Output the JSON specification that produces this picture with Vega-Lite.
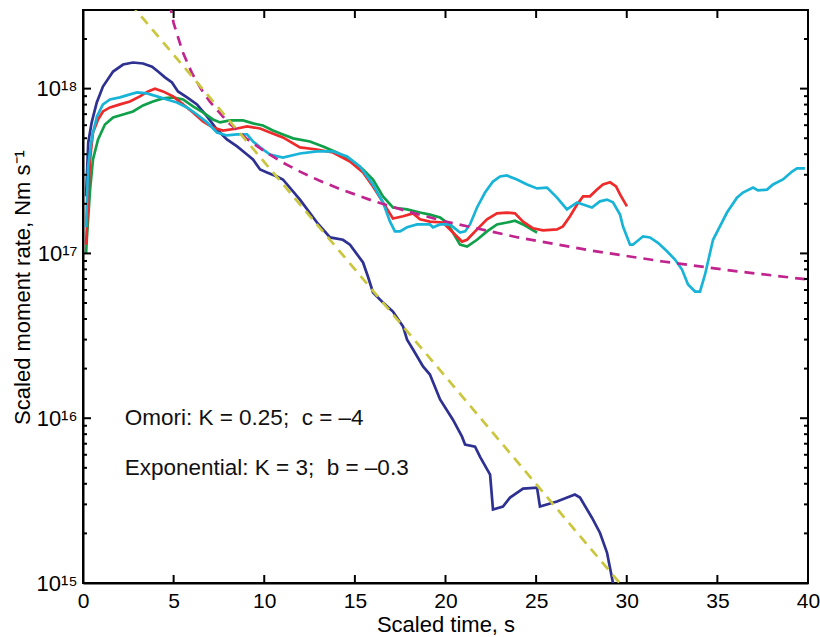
{
  "$schema": "https://vega.github.io/schema/vega-lite/v6.json",
  "width": 725,
  "height": 573,
  "autosize": {"type": "none"},
  "padding": {"left": 83, "top": 10, "right": 12, "bottom": 54},
  "background": "white",
  "config": {
    "font": "Liberation Sans",
    "view": {"stroke": "black", "strokeWidth": 2},
    "axis": {"labelColor": "black", "titleColor": "black", "domainColor": "black", "domainWidth": 2, "ticks": false, "grid": false, "labelFont": "Liberation Sans", "titleFont": "Liberation Sans", "titleFontWeight": "normal"}
  },
  "datasets": {
    "obs": [
      {"s": "blue", "t": 0.17, "m": 2.22e17}, {"s": "blue", "t": 0.29, "m": 4.71e17}, {"s": "blue", "t": 0.48, "m": 6.24e17}, {"s": "blue", "t": 0.76, "m": 8.24e17}, {"s": "blue", "t": 1.10, "m": 1.03e18}, {"s": "blue", "t": 1.66, "m": 1.27e18}, {"s": "blue", "t": 2.21, "m": 1.40e18}, {"s": "blue", "t": 2.76, "m": 1.44e18}, {"s": "blue", "t": 3.31, "m": 1.42e18}, {"s": "blue", "t": 3.81, "m": 1.36e18}, {"s": "blue", "t": 4.14, "m": 1.27e18}, {"s": "blue", "t": 4.52, "m": 1.17e18}, {"s": "blue", "t": 4.91, "m": 1.09e18}, {"s": "blue", "t": 5.24, "m": 9.62e17}, {"s": "blue", "t": 5.74, "m": 8.85e17}, {"s": "blue", "t": 6.29, "m": 8.02e17}, {"s": "blue", "t": 6.84, "m": 6.78e17}, {"s": "blue", "t": 7.39, "m": 5.65e17}, {"s": "blue", "t": 7.94, "m": 4.92e17}, {"s": "blue", "t": 8.50, "m": 4.46e17}, {"s": "blue", "t": 9.05, "m": 3.98e17}, {"s": "blue", "t": 9.38, "m": 3.72e17}, {"s": "blue", "t": 9.77, "m": 3.23e17}, {"s": "blue", "t": 10.15, "m": 3.10e17}, {"s": "blue", "t": 10.70, "m": 2.93e17}, {"s": "blue", "t": 11.03, "m": 2.81e17}, {"s": "blue", "t": 11.97, "m": 2.12e17}, {"s": "blue", "t": 12.91, "m": 1.54e17}, {"s": "blue", "t": 13.63, "m": 1.25e17}, {"s": "blue", "t": 14.34, "m": 1.21e17}, {"s": "blue", "t": 14.73, "m": 1.13e17}, {"s": "blue", "t": 15.45, "m": 8.81e16}, {"s": "blue", "t": 15.72, "m": 7.24e16}, {"s": "blue", "t": 16.0, "m": 5.79e16}, {"s": "blue", "t": 16.55, "m": 5.03e16}, {"s": "blue", "t": 17.10, "m": 4.44e16}, {"s": "blue", "t": 17.66, "m": 3.60e16}, {"s": "blue", "t": 17.88, "m": 3.00e16}, {"s": "blue", "t": 18.21, "m": 2.61e16}, {"s": "blue", "t": 18.76, "m": 2.06e16}, {"s": "blue", "t": 19.14, "m": 1.84e16}, {"s": "blue", "t": 19.70, "m": 1.30e16}, {"s": "blue", "t": 20.41, "m": 9.8e15}, {"s": "blue", "t": 20.91, "m": 7.73e15}, {"s": "blue", "t": 21.08, "m": 6.92e15}, {"s": "blue", "t": 21.63, "m": 6.72e15}, {"s": "blue", "t": 21.90, "m": 5.85e15}, {"s": "blue", "t": 22.46, "m": 4.55e15}, {"s": "blue", "t": 22.62, "m": 2.79e15}, {"s": "blue", "t": 23.17, "m": 2.91e15}, {"s": "blue", "t": 23.56, "m": 3.30e15}, {"s": "blue", "t": 24.28, "m": 3.74e15}, {"s": "blue", "t": 25.05, "m": 3.79e15}, {"s": "blue", "t": 25.21, "m": 2.91e15}, {"s": "blue", "t": 26.15, "m": 3.12e15}, {"s": "blue", "t": 27.14, "m": 3.44e15}, {"s": "blue", "t": 27.42, "m": 3.30e15}, {"s": "blue", "t": 28.08, "m": 2.49e15}, {"s": "blue", "t": 28.52, "m": 2.02e15}, {"s": "blue", "t": 28.91, "m": 1.53e15}, {"s": "blue", "t": 29.24, "m": 1.0e15}, {"s": "blue", "t": 29.35, "m": 9.0e14},

      {"s": "green", "t": 0.17, "m": 1.0e17}, {"s": "green", "t": 0.22, "m": 1.27e17}, {"s": "green", "t": 0.39, "m": 2.44e17}, {"s": "green", "t": 0.55, "m": 3.72e17}, {"s": "green", "t": 0.83, "m": 4.92e17}, {"s": "green", "t": 1.21, "m": 6.06e17}, {"s": "green", "t": 1.66, "m": 6.68e17}, {"s": "green", "t": 2.21, "m": 6.97e17}, {"s": "green", "t": 2.76, "m": 7.27e17}, {"s": "green", "t": 3.31, "m": 7.91e17}, {"s": "green", "t": 3.86, "m": 8.36e17}, {"s": "green", "t": 4.41, "m": 8.73e17}, {"s": "green", "t": 4.97, "m": 8.85e17}, {"s": "green", "t": 5.52, "m": 8.6e17}, {"s": "green", "t": 6.07, "m": 7.8e17}, {"s": "green", "t": 6.62, "m": 7.17e17}, {"s": "green", "t": 7.17, "m": 6.50e17}, {"s": "green", "t": 7.56, "m": 6.24e17}, {"s": "green", "t": 8.11, "m": 6.41e17}, {"s": "green", "t": 8.83, "m": 6.41e17}, {"s": "green", "t": 9.38, "m": 6.15e17}, {"s": "green", "t": 9.93, "m": 5.98e17}, {"s": "green", "t": 10.48, "m": 5.57e17}, {"s": "green", "t": 11.03, "m": 5.27e17}, {"s": "green", "t": 11.59, "m": 4.99e17}, {"s": "green", "t": 12.52, "m": 4.78e17}, {"s": "green", "t": 13.24, "m": 4.46e17}, {"s": "green", "t": 14.01, "m": 4.10e17}, {"s": "green", "t": 14.73, "m": 3.72e17}, {"s": "green", "t": 15.45, "m": 3.23e17}, {"s": "green", "t": 16.0, "m": 2.81e17}, {"s": "green", "t": 16.55, "m": 2.22e17}, {"s": "green", "t": 17.10, "m": 1.90e17}, {"s": "green", "t": 17.88, "m": 1.85e17}, {"s": "green", "t": 18.59, "m": 1.77e17}, {"s": "green", "t": 19.14, "m": 1.72e17}, {"s": "green", "t": 19.70, "m": 1.65e17}, {"s": "green", "t": 20.08, "m": 1.54e17}, {"s": "green", "t": 20.41, "m": 1.34e17}, {"s": "green", "t": 20.80, "m": 1.13e17}, {"s": "green", "t": 21.19, "m": 1.10e17}, {"s": "green", "t": 21.74, "m": 1.21e17}, {"s": "green", "t": 22.29, "m": 1.36e17}, {"s": "green", "t": 22.84, "m": 1.50e17}, {"s": "green", "t": 23.39, "m": 1.54e17}, {"s": "green", "t": 23.83, "m": 1.58e17}, {"s": "green", "t": 24.28, "m": 1.50e17}, {"s": "green", "t": 24.83, "m": 1.38e17}, {"s": "green", "t": 25.05, "m": 1.34e17},

      {"s": "red", "t": 0.17, "m": 1.13e17}, {"s": "red", "t": 0.39, "m": 3.72e17}, {"s": "red", "t": 0.55, "m": 5.42e17}, {"s": "red", "t": 0.83, "m": 6.50e17}, {"s": "red", "t": 1.10, "m": 7.27e17}, {"s": "red", "t": 1.49, "m": 7.69e17}, {"s": "red", "t": 2.04, "m": 8.02e17}, {"s": "red", "t": 2.59, "m": 8.36e17}, {"s": "red", "t": 3.14, "m": 8.97e17}, {"s": "red", "t": 3.59, "m": 9.62e17}, {"s": "red", "t": 3.97, "m": 1.0e18}, {"s": "red", "t": 4.41, "m": 9.62e17}, {"s": "red", "t": 4.97, "m": 8.97e17}, {"s": "red", "t": 5.52, "m": 8.02e17}, {"s": "red", "t": 6.07, "m": 7.17e17}, {"s": "red", "t": 6.62, "m": 6.32e17}, {"s": "red", "t": 7.17, "m": 5.81e17}, {"s": "red", "t": 7.72, "m": 5.57e17}, {"s": "red", "t": 8.50, "m": 5.73e17}, {"s": "red", "t": 9.05, "m": 5.90e17}, {"s": "red", "t": 9.77, "m": 5.73e17}, {"s": "red", "t": 10.32, "m": 5.42e17}, {"s": "red", "t": 11.03, "m": 5.06e17}, {"s": "red", "t": 11.97, "m": 4.40e17}, {"s": "red", "t": 12.91, "m": 4.27e17}, {"s": "red", "t": 13.79, "m": 4.10e17}, {"s": "red", "t": 14.73, "m": 3.61e17}, {"s": "red", "t": 15.45, "m": 3.10e17}, {"s": "red", "t": 16.0, "m": 2.55e17}, {"s": "red", "t": 16.55, "m": 2.04e17}, {"s": "red", "t": 17.10, "m": 1.63e17}, {"s": "red", "t": 17.66, "m": 1.68e17}, {"s": "red", "t": 18.21, "m": 1.75e17}, {"s": "red", "t": 18.59, "m": 1.61e17}, {"s": "red", "t": 19.14, "m": 1.56e17}, {"s": "red", "t": 19.86, "m": 1.54e17}, {"s": "red", "t": 20.41, "m": 1.34e17}, {"s": "red", "t": 20.91, "m": 1.18e17}, {"s": "red", "t": 21.19, "m": 1.21e17}, {"s": "red", "t": 21.74, "m": 1.40e17}, {"s": "red", "t": 22.29, "m": 1.61e17}, {"s": "red", "t": 22.84, "m": 1.75e17}, {"s": "red", "t": 23.39, "m": 1.77e17}, {"s": "red", "t": 23.83, "m": 1.75e17}, {"s": "red", "t": 24.28, "m": 1.56e17}, {"s": "red", "t": 24.83, "m": 1.42e17}, {"s": "red", "t": 25.38, "m": 1.38e17}, {"s": "red", "t": 26.15, "m": 1.40e17}, {"s": "red", "t": 26.48, "m": 1.46e17}, {"s": "red", "t": 26.87, "m": 1.68e17}, {"s": "red", "t": 27.26, "m": 1.98e17}, {"s": "red", "t": 27.59, "m": 2.22e17}, {"s": "red", "t": 27.97, "m": 2.22e17}, {"s": "red", "t": 28.36, "m": 2.44e17}, {"s": "red", "t": 28.69, "m": 2.62e17}, {"s": "red", "t": 29.08, "m": 2.70e17}, {"s": "red", "t": 29.41, "m": 2.55e17}, {"s": "red", "t": 29.63, "m": 2.28e17}, {"s": "red", "t": 30.01, "m": 1.93e17},

      {"s": "cyan", "t": 0.17, "m": 1.44e17}, {"s": "cyan", "t": 0.28, "m": 3.37e17}, {"s": "cyan", "t": 0.50, "m": 5.13e17}, {"s": "cyan", "t": 0.77, "m": 6.78e17}, {"s": "cyan", "t": 1.10, "m": 8.02e17}, {"s": "cyan", "t": 1.49, "m": 8.6e17}, {"s": "cyan", "t": 2.04, "m": 8.85e17}, {"s": "cyan", "t": 2.59, "m": 9.23e17}, {"s": "cyan", "t": 2.98, "m": 9.48e17}, {"s": "cyan", "t": 3.53, "m": 9.35e17}, {"s": "cyan", "t": 4.08, "m": 8.97e17}, {"s": "cyan", "t": 4.63, "m": 8.6e17}, {"s": "cyan", "t": 5.19, "m": 8.24e17}, {"s": "cyan", "t": 5.74, "m": 7.69e17}, {"s": "cyan", "t": 6.29, "m": 6.97e17}, {"s": "cyan", "t": 6.84, "m": 6.24e17}, {"s": "cyan", "t": 7.39, "m": 5.42e17}, {"s": "cyan", "t": 7.94, "m": 5.20e17}, {"s": "cyan", "t": 8.50, "m": 5.27e17}, {"s": "cyan", "t": 9.05, "m": 5.27e17}, {"s": "cyan", "t": 9.38, "m": 4.78e17}, {"s": "cyan", "t": 9.77, "m": 4.40e17}, {"s": "cyan", "t": 10.32, "m": 3.98e17}, {"s": "cyan", "t": 11.03, "m": 3.82e17}, {"s": "cyan", "t": 11.97, "m": 4.04e17}, {"s": "cyan", "t": 12.91, "m": 4.16e17}, {"s": "cyan", "t": 13.79, "m": 4.16e17}, {"s": "cyan", "t": 14.57, "m": 3.87e17}, {"s": "cyan", "t": 15.28, "m": 3.37e17}, {"s": "cyan", "t": 16.0, "m": 2.62e17}, {"s": "cyan", "t": 16.55, "m": 2.04e17}, {"s": "cyan", "t": 16.94, "m": 1.56e17}, {"s": "cyan", "t": 17.21, "m": 1.36e17}, {"s": "cyan", "t": 17.49, "m": 1.36e17}, {"s": "cyan", "t": 17.88, "m": 1.44e17}, {"s": "cyan", "t": 18.43, "m": 1.50e17}, {"s": "cyan", "t": 19.14, "m": 1.50e17}, {"s": "cyan", "t": 19.31, "m": 1.44e17}, {"s": "cyan", "t": 19.70, "m": 1.50e17}, {"s": "cyan", "t": 20.25, "m": 1.50e17}, {"s": "cyan", "t": 20.80, "m": 1.34e17}, {"s": "cyan", "t": 21.08, "m": 1.36e17}, {"s": "cyan", "t": 21.35, "m": 1.50e17}, {"s": "cyan", "t": 21.74, "m": 1.90e17}, {"s": "cyan", "t": 22.18, "m": 2.34e17}, {"s": "cyan", "t": 22.62, "m": 2.73e17}, {"s": "cyan", "t": 23.01, "m": 2.93e17}, {"s": "cyan", "t": 23.39, "m": 2.97e17}, {"s": "cyan", "t": 23.94, "m": 2.81e17}, {"s": "cyan", "t": 24.50, "m": 2.62e17}, {"s": "cyan", "t": 25.05, "m": 2.48e17}, {"s": "cyan", "t": 25.60, "m": 2.51e17}, {"s": "cyan", "t": 26.15, "m": 2.18e17}, {"s": "cyan", "t": 26.70, "m": 1.85e17}, {"s": "cyan", "t": 27.26, "m": 2.04e17}, {"s": "cyan", "t": 27.59, "m": 1.98e17}, {"s": "cyan", "t": 28.08, "m": 1.90e17}, {"s": "cyan", "t": 28.52, "m": 2.07e17}, {"s": "cyan", "t": 28.91, "m": 2.12e17}, {"s": "cyan", "t": 29.24, "m": 2.04e17}, {"s": "cyan", "t": 29.63, "m": 1.72e17}, {"s": "cyan", "t": 29.79, "m": 1.46e17}, {"s": "cyan", "t": 30.18, "m": 1.13e17}, {"s": "cyan", "t": 30.34, "m": 1.13e17}, {"s": "cyan", "t": 30.90, "m": 1.27e17}, {"s": "cyan", "t": 31.28, "m": 1.25e17}, {"s": "cyan", "t": 31.72, "m": 1.16e17}, {"s": "cyan", "t": 32.22, "m": 1.03e17}, {"s": "cyan", "t": 32.66, "m": 9.18e16}, {"s": "cyan", "t": 33.05, "m": 7.98e16}, {"s": "cyan", "t": 33.38, "m": 6.47e16}, {"s": "cyan", "t": 33.77, "m": 5.87e16}, {"s": "cyan", "t": 34.04, "m": 5.87e16}, {"s": "cyan", "t": 34.32, "m": 7.45e16}, {"s": "cyan", "t": 34.76, "m": 1.21e17}, {"s": "cyan", "t": 35.14, "m": 1.46e17}, {"s": "cyan", "t": 35.53, "m": 1.77e17}, {"s": "cyan", "t": 36.08, "m": 2.18e17}, {"s": "cyan", "t": 36.41, "m": 2.34e17}, {"s": "cyan", "t": 36.97, "m": 2.51e17}, {"s": "cyan", "t": 37.24, "m": 2.41e17}, {"s": "cyan", "t": 37.74, "m": 2.44e17}, {"s": "cyan", "t": 38.07, "m": 2.62e17}, {"s": "cyan", "t": 38.62, "m": 2.81e17}, {"s": "cyan", "t": 39.12, "m": 3.14e17}, {"s": "cyan", "t": 39.39, "m": 3.28e17}, {"s": "cyan", "t": 39.83, "m": 3.28e17}
    ],
    "fits": [
      {"s": "omori", "t": 4.6, "m": 4.17e18}, {"s": "omori", "t": 5, "m": 2.5e18}, {"s": "omori", "t": 5.5, "m": 1.667e18}, {"s": "omori", "t": 6, "m": 1.25e18}, {"s": "omori", "t": 6.5, "m": 1.0e18}, {"s": "omori", "t": 7, "m": 8.33e17}, {"s": "omori", "t": 8, "m": 6.25e17}, {"s": "omori", "t": 9, "m": 5.0e17}, {"s": "omori", "t": 10, "m": 4.17e17}, {"s": "omori", "t": 11, "m": 3.57e17}, {"s": "omori", "t": 12, "m": 3.125e17}, {"s": "omori", "t": 13, "m": 2.78e17}, {"s": "omori", "t": 14, "m": 2.5e17}, {"s": "omori", "t": 16, "m": 2.083e17}, {"s": "omori", "t": 18, "m": 1.786e17}, {"s": "omori", "t": 20, "m": 1.5625e17}, {"s": "omori", "t": 24, "m": 1.25e17}, {"s": "omori", "t": 28, "m": 1.042e17}, {"s": "omori", "t": 32, "m": 8.93e16}, {"s": "omori", "t": 36, "m": 7.81e16}, {"s": "omori", "t": 40, "m": 6.94e16},
      {"s": "exponential", "t": 2, "m": 3.95e18}, {"s": "exponential", "t": 16, "m": 5.93e16}, {"s": "exponential", "t": 30, "m": 8.89e14}
    ],
    "notes": [
      {"t": 2.3, "m": 1.0e16, "label": "Omori: K = 0.25;\u00a0 c = \u20134"},
      {"t": 2.3, "m": 5.0e15, "label": "Exponential: K = 3;\u00a0 b = \u20130.3"}
    ],
    "xticks": [
      {"v": 5, "e": 1e15}, {"v": 10, "e": 1e15}, {"v": 15, "e": 1e15}, {"v": 20, "e": 1e15}, {"v": 25, "e": 1e15}, {"v": 30, "e": 1e15}, {"v": 35, "e": 1e15},
      {"v": 5, "e": 3e18}, {"v": 10, "e": 3e18}, {"v": 15, "e": 3e18}, {"v": 20, "e": 3e18}, {"v": 25, "e": 3e18}, {"v": 30, "e": 3e18}, {"v": 35, "e": 3e18}
    ],
    "yticks": [
      {"v": 2e15, "k": "minor"}, {"v": 3e15, "k": "minor"}, {"v": 4e15, "k": "minor"}, {"v": 5e15, "k": "minor"}, {"v": 6e15, "k": "minor"}, {"v": 7e15, "k": "minor"}, {"v": 8e15, "k": "minor"}, {"v": 9e15, "k": "minor"},
      {"v": 1e16, "k": "major"}, {"v": 2e16, "k": "minor"}, {"v": 3e16, "k": "minor"}, {"v": 4e16, "k": "minor"}, {"v": 5e16, "k": "minor"}, {"v": 6e16, "k": "minor"}, {"v": 7e16, "k": "minor"}, {"v": 8e16, "k": "minor"}, {"v": 9e16, "k": "minor"},
      {"v": 1e17, "k": "major"}, {"v": 2e17, "k": "minor"}, {"v": 3e17, "k": "minor"}, {"v": 4e17, "k": "minor"}, {"v": 5e17, "k": "minor"}, {"v": 6e17, "k": "minor"}, {"v": 7e17, "k": "minor"}, {"v": 8e17, "k": "minor"}, {"v": 9e17, "k": "minor"},
      {"v": 1e18, "k": "major"}, {"v": 2e18, "k": "minor"}
    ],
    "edges": [{"e": 0}, {"e": 40}]
  },
  "resolve": {"axis": {"x": "independent", "y": "independent"}, "scale": {"color": "independent"}},
  "layer": [
    {
      "data": {"name": "obs"},
      "mark": {"type": "line", "strokeWidth": 2.7, "clip": true},
      "encoding": {
        "x": {"field": "t", "type": "quantitative", "scale": {"domain": [0, 40], "nice": false, "zero": false},
          "axis": {"orient": "bottom", "title": "Scaled time, s", "values": [0, 5, 10, 15, 20, 25, 30, 35, 40], "labelPadding": 7, "labelFontSize": 21, "titleFontSize": 22, "titleY": 41, "titleBaseline": "middle", "labelFlush": false, "labelOverlap": false}},
        "y": {"field": "m", "type": "quantitative", "scale": {"type": "log", "domain": [1e15, 3e18], "nice": false},
          "axis": {"orient": "left", "title": "Scaled moment rate, Nm s\u207b\u00b9", "titleFontSize": 22, "titleX": -61, "titleY": 277, "titleBaseline": "middle", "titleAngle": -90,
            "values": [1e15, 1e16, 1e17, 1e18],
            "labelExpr": "round(log(datum.value)/LN10) == 15 ? '10\u00b9\u2075' : round(log(datum.value)/LN10) == 16 ? '10\u00b9\u2076' : round(log(datum.value)/LN10) == 17 ? '10\u00b9\u2077' : '10\u00b9\u2078'",
            "labelFontSize": 22, "labelPadding": 6, "labelOverlap": false, "labelFlush": false}},
        "color": {"field": "s", "type": "nominal", "scale": {"domain": ["blue", "green", "red", "cyan"], "range": ["#2E3192", "#10A04A", "#EE2A2A", "#18B4D8"]}, "legend": null}
      }
    },
    {
      "data": {"name": "fits"},
      "mark": {"type": "line", "strokeWidth": 2.7, "strokeDash": [10, 7], "clip": true},
      "encoding": {
        "x": {"field": "t", "type": "quantitative", "axis": null},
        "y": {"field": "m", "type": "quantitative", "axis": null},
        "color": {"field": "s", "type": "nominal", "scale": {"domain": ["omori", "exponential"], "range": ["#C1248E", "#CAC63E"]}, "legend": null}
      }
    },
    {
      "data": {"name": "xticks"},
      "mark": {"type": "tick", "orient": "vertical", "size": 16, "thickness": 2, "color": "black", "opacity": 1, "clip": true},
      "encoding": {
        "x": {"field": "v", "type": "quantitative", "axis": null},
        "y": {"field": "e", "type": "quantitative", "axis": null}
      }
    },
    {
      "data": {"name": "yticks"},
      "transform": [{"lookup": "v", "from": {"data": {"name": "yticks"}, "key": "v", "fields": ["k"]}}],
      "layer": [
        {
          "mark": {"type": "tick", "orient": "horizontal", "thickness": 2, "color": "black", "opacity": 1, "clip": true},
          "encoding": {
            "x": {"datum": 0, "type": "quantitative", "axis": null},
            "y": {"field": "v", "type": "quantitative", "axis": null},
            "size": {"field": "k", "type": "nominal", "scale": {"domain": ["major", "minor"], "range": [16, 8]}, "legend": null}
          }
        },
        {
          "mark": {"type": "tick", "orient": "horizontal", "thickness": 2, "color": "black", "opacity": 1, "clip": true},
          "encoding": {
            "x": {"datum": 40, "type": "quantitative", "axis": null},
            "y": {"field": "v", "type": "quantitative", "axis": null},
            "size": {"field": "k", "type": "nominal", "scale": {"domain": ["major", "minor"], "range": [16, 8]}, "legend": null}
          }
        }
      ]
    },
    {
      "data": {"name": "notes"},
      "mark": {"type": "text", "align": "left", "baseline": "middle", "fontSize": 22.5, "font": "Liberation Sans", "color": "#111"},
      "encoding": {
        "x": {"field": "t", "type": "quantitative", "axis": null},
        "y": {"field": "m", "type": "quantitative", "axis": null},
        "text": {"field": "label"}
      }
    }
  ]
}
